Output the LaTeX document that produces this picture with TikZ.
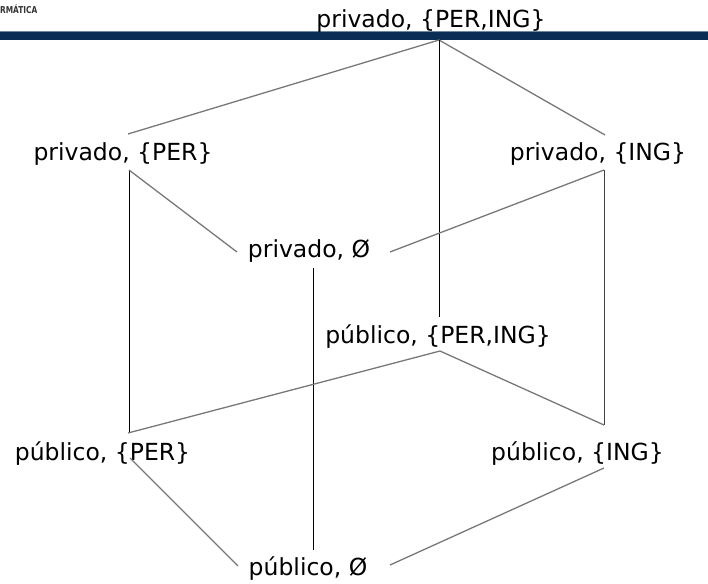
\documentclass[tikz,border=0pt]{standalone}
\usepackage{fontspec}
\setmainfont{DejaVu Sans}
\definecolor{barblue}{RGB}{10,45,85}
\definecolor{barlight}{RGB}{110,135,165}
\definecolor{edgegray}{RGB}{120,120,120}
\begin{document}
\begin{tikzpicture}[x=1pt,y=-1pt,
  lbl/.style={anchor=base,inner sep=0pt,font=\fontsize{23.5}{27}\selectfont},
  diag/.style={draw=edgegray,line width=1.3pt},
  vert/.style={draw=black,line width=0.8pt}]
\useasboundingbox (0,0) rectangle (708,583);
% header
\fill[barlight] (0,31) rectangle (708,33);
\fill[barblue] (0,32.5) rectangle (708,40);
\node[anchor=north west,inner sep=0pt,text=black!80,font=\bfseries\fontsize{9.5}{10}\selectfont,xscale=0.78] (logo) at (0,4) {RMÁTICA};
% labels
\node[lbl] (top) at (431,28) {privado, \{PER,ING\}};
\node[lbl] (pper) at (123,160) {privado, \{PER\}};
\node[lbl] (ping) at (598,160) {privado, \{ING\}};
\node[lbl] (pnone) at (309,257) {privado, Ø};
\node[lbl] (uboth) at (438,343) {público, \{PER,ING\}};
\node[lbl] (uper) at (102.5,460) {público, \{PER\}};
\node[lbl] (uing) at (577.5,460) {público, \{ING\}};
\node[lbl] (unone) at (308,575) {público, Ø};
% connection points
\coordinate (topS) at (439,40);
\coordinate (pperN) at (128,134);
\coordinate (pperS) at (129,170);
\coordinate (pingN) at (605,135);
\coordinate (pingS) at (604,170);
\coordinate (pnoneW) at (237,252);
\coordinate (pnoneE) at (390,252);
\coordinate (pnoneS) at (313,268);
\coordinate (ubothN) at (439,317);
\coordinate (ubothS) at (440,351);
\coordinate (uperN) at (128,433);
\coordinate (uperS) at (130,458);
\coordinate (uingN) at (604,425);
\coordinate (uingS) at (604,468);
\coordinate (unoneW) at (238,566);
\coordinate (unoneE) at (390,565);
\coordinate (unoneN) at (313,550);
% connectors
\draw[diag] (topS) -- (pperN);
\draw[diag] (topS) -- (pingN);
\draw[vert] (topS) -- (ubothN);
\draw[vert] (pperS) -- (pperS |- uperN);
\draw[diag] (pperS) -- (pnoneW);
\draw[diag] (pingS) -- (pnoneE);
\draw[vert,draw=black!75] (pingS) -- (uingN);
\draw[vert] (pnoneS) -- (unoneN);
\draw[diag] (ubothS) -- (uperN);
\draw[diag] (ubothS) -- (uingN);
\draw[diag] (uperS) -- (unoneW);
\draw[diag] (uingS) -- (unoneE);
\end{tikzpicture}
\end{document}
